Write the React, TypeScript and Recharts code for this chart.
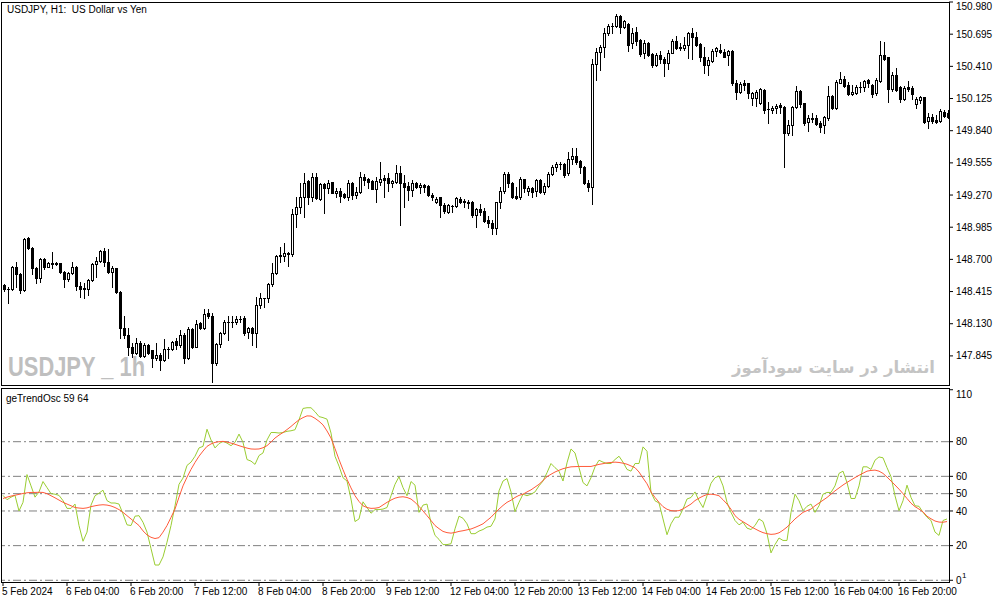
import React from 'react';
import { ComposedChart, Bar, Line, XAxis, YAxis, ReferenceLine } from 'recharts';

const FONT = "'Liberation Sans', Arial, sans-serif";

// 237 hourly bars, 5 Feb 2024 -> 16 Feb 2024
const opens = [
  148.474, 148.435, 148.441, 148.636, 148.571, 148.430, 148.888, 148.799, 148.621, 148.533,
  148.701, 148.636, 148.666, 148.672, 148.666, 148.592, 148.524, 148.577, 148.636, 148.468,
  148.444, 148.441, 148.518, 148.660, 148.687, 148.775, 148.680, 148.592, 148.621, 148.415,
  148.090, 148.031, 147.928, 147.869, 147.963, 147.845, 147.943, 147.893, 147.825, 147.854,
  147.810, 147.904, 147.910, 147.981, 147.943, 148.031, 147.825, 148.081, 147.928, 148.135,
  148.090, 148.223, 148.194, 147.786, 147.952, 148.046, 148.141, 148.141, 148.141, 148.170,
  148.179, 148.061, 148.090, 148.052, 148.297, 148.356, 148.356, 148.483, 148.577, 148.731,
  148.731, 148.754, 148.749, 149.103, 149.162, 149.250, 149.398, 149.256, 149.428, 149.236,
  149.368, 149.330, 149.383, 149.286, 149.306, 149.277, 149.256, 149.380, 149.271, 149.295,
  149.428, 149.410, 149.395, 149.324, 149.389, 149.419, 149.419, 149.374, 149.389, 149.469,
  149.380, 149.351, 149.315, 149.380, 149.339, 149.360, 149.351, 149.271, 149.206, 149.250,
  149.183, 149.123, 149.174, 149.174, 149.236, 149.221, 149.212, 149.212, 149.094, 149.144,
  149.132, 149.050, 149.020, 148.976, 149.206, 149.309, 149.457, 149.374, 149.262, 149.250,
  149.410, 149.309, 149.330, 149.309, 149.404, 149.300, 149.354, 149.457, 149.522, 149.546,
  149.546, 149.463, 149.587, 149.616, 149.575, 149.522, 149.380, 149.339, 150.431, 150.540,
  150.579, 150.709, 150.768, 150.768, 150.856, 150.762, 150.785, 150.620, 150.712, 150.644,
  150.526, 150.620, 150.517, 150.422, 150.511, 150.473, 150.437, 150.532, 150.635, 150.579,
  150.570, 150.600, 150.703, 150.667, 150.608, 150.490, 150.422, 150.461, 150.549, 150.555,
  150.540, 150.511, 150.549, 150.266, 150.186, 150.266, 150.260, 150.127, 150.127, 150.083,
  150.201, 150.030, 150.024, 150.039, 150.068, 150.053, 149.817, 149.891, 150.053, 150.195,
  150.083, 149.920, 149.950, 149.950, 149.906, 149.891, 149.950, 150.148, 150.039, 150.266,
  150.295, 150.245, 150.166, 150.177, 150.225, 150.225, 150.290, 150.245, 150.171, 150.284,
  150.511, 150.490, 150.207, 150.334, 150.225, 150.118, 150.225, 150.216, 150.077, 150.112,
  150.136, 149.929, 149.965, 149.935, 149.929, 150.009, 149.994,
];
const highs = [
  148.483, 148.459, 148.642, 148.680, 148.577, 148.888, 148.896, 148.808, 148.636, 148.710,
  148.710, 148.680, 148.769, 148.678, 148.672, 148.598, 148.592, 148.680, 148.642, 148.504,
  148.489, 148.524, 148.666, 148.725, 148.784, 148.799, 148.790, 148.642, 148.627, 148.421,
  148.194, 148.090, 147.957, 148.002, 147.981, 147.957, 147.952, 147.898, 147.957, 147.869,
  147.993, 147.928, 147.981, 148.002, 148.076, 148.046, 148.099, 148.090, 148.164, 148.149,
  148.259, 148.259, 148.223, 147.957, 148.061, 148.164, 148.194, 148.194, 148.194, 148.194,
  148.194, 148.105, 148.105, 148.365, 148.400, 148.362, 148.489, 148.666, 148.740, 148.808,
  148.849, 148.769, 149.144, 149.250, 149.380, 149.469, 149.404, 149.469, 149.463, 149.374,
  149.380, 149.404, 149.389, 149.330, 149.330, 149.292, 149.404, 149.389, 149.339, 149.478,
  149.457, 149.419, 149.404, 149.428, 149.566, 149.448, 149.463, 149.404, 149.537, 149.528,
  149.448, 149.389, 149.404, 149.389, 149.374, 149.369, 149.360, 149.286, 149.250, 149.256,
  149.203, 149.191, 149.183, 149.256, 149.250, 149.233, 149.227, 149.218, 149.153, 149.191,
  149.153, 149.085, 149.050, 149.212, 149.345, 149.472, 149.472, 149.383, 149.339, 149.428,
  149.416, 149.351, 149.345, 149.410, 149.413, 149.374, 149.472, 149.537, 149.566, 149.566,
  149.557, 149.655, 149.684, 149.684, 149.581, 149.528, 149.404, 150.473, 150.576, 150.600,
  150.747, 150.785, 150.791, 150.874, 150.865, 150.821, 150.791, 150.747, 150.762, 150.650,
  150.644, 150.629, 150.532, 150.532, 150.546, 150.496, 150.555, 150.650, 150.679, 150.614,
  150.667, 150.718, 150.747, 150.718, 150.614, 150.585, 150.496, 150.561, 150.579, 150.608,
  150.561, 150.555, 150.555, 150.290, 150.275, 150.290, 150.266, 150.186, 150.201, 150.216,
  150.207, 150.098, 150.059, 150.077, 150.089, 150.059, 149.935, 150.059, 150.236, 150.201,
  150.089, 149.979, 149.994, 149.979, 149.929, 149.971, 150.236, 150.157, 150.290, 150.363,
  150.325, 150.275, 150.245, 150.245, 150.275, 150.290, 150.295, 150.254, 150.304, 150.638,
  150.629, 150.496, 150.363, 150.393, 150.236, 150.236, 150.284, 150.236, 150.142, 150.148,
  150.142, 149.994, 149.988, 149.979, 150.030, 150.024, 150.024,
];
const lows = [
  148.424, 148.312, 148.430, 148.459, 148.400, 148.424, 148.790, 148.571, 148.495, 148.504,
  148.613, 148.630, 148.621, 148.651, 148.577, 148.459, 148.512, 148.571, 148.430, 148.371,
  148.356, 148.386, 148.512, 148.542, 148.680, 148.645, 148.583, 148.459, 148.400, 148.002,
  148.002, 147.854, 147.839, 147.863, 147.839, 147.839, 147.863, 147.751, 147.810, 147.721,
  147.804, 147.825, 147.898, 147.904, 147.928, 147.780, 147.816, 147.913, 147.922, 148.081,
  148.084, 148.179, 147.618, 147.766, 147.928, 148.040, 147.987, 148.105, 148.129, 148.149,
  148.031, 148.002, 147.943, 147.928, 148.267, 148.282, 148.326, 148.465, 148.571, 148.680,
  148.690, 148.642, 148.731, 148.991, 149.109, 149.079, 149.191, 149.221, 149.233, 149.227,
  149.115, 149.286, 149.286, 149.250, 149.212, 149.241, 149.227, 149.233, 149.241, 149.292,
  149.360, 149.330, 149.321, 149.212, 149.360, 149.256, 149.309, 149.345, 149.380, 149.005,
  149.168, 149.227, 149.262, 149.330, 149.292, 149.300, 149.262, 149.227, 149.197, 149.073,
  149.109, 149.109, 149.123, 149.168, 149.197, 149.168, 149.153, 149.079, 148.985, 149.094,
  149.035, 148.991, 148.926, 148.926, 149.153, 149.286, 149.339, 149.244, 149.233, 149.233,
  149.300, 149.271, 149.256, 149.262, 149.286, 149.280, 149.345, 149.448, 149.487, 149.498,
  149.433, 149.448, 149.546, 149.546, 149.469, 149.368, 149.309, 149.188, 150.290, 150.378,
  150.490, 150.688, 150.703, 150.762, 150.709, 150.747, 150.549, 150.570, 150.600, 150.502,
  150.481, 150.502, 150.402, 150.416, 150.437, 150.325, 150.384, 150.526, 150.561, 150.555,
  150.555, 150.481, 150.473, 150.591, 150.461, 150.354, 150.334, 150.452, 150.502, 150.532,
  150.490, 150.422, 150.245, 150.118, 150.177, 150.201, 150.127, 150.068, 150.059, 150.077,
  150.000, 149.912, 149.994, 149.994, 149.994, 149.522, 149.802, 149.802, 150.039, 150.053,
  149.891, 149.841, 149.920, 149.891, 149.832, 149.817, 149.935, 150.030, 150.030, 150.260,
  150.225, 150.157, 150.157, 150.166, 150.186, 150.195, 150.225, 150.136, 150.157, 150.275,
  150.467, 150.098, 150.195, 150.195, 150.098, 150.112, 150.195, 150.118, 150.039, 150.089,
  149.912, 149.861, 149.912, 149.906, 149.920, 149.965, 149.950,
];
const closes = [
  148.435, 148.441, 148.636, 148.571, 148.430, 148.879, 148.799, 148.621, 148.533, 148.701,
  148.636, 148.666, 148.663, 148.660, 148.592, 148.524, 148.577, 148.636, 148.468, 148.435,
  148.435, 148.518, 148.660, 148.687, 148.775, 148.680, 148.592, 148.621, 148.415, 148.090,
  148.031, 147.928, 147.869, 147.963, 147.845, 147.943, 147.875, 147.825, 147.854, 147.810,
  147.904, 147.910, 147.972, 147.943, 148.031, 147.825, 148.081, 147.928, 148.129, 148.090,
  148.217, 148.194, 147.786, 147.952, 148.046, 148.141, 148.141, 148.144, 148.170, 148.173,
  148.052, 148.090, 148.052, 148.297, 148.356, 148.359, 148.483, 148.577, 148.731, 148.737,
  148.754, 148.751, 149.103, 149.162, 149.250, 149.380, 149.256, 149.428, 149.241, 149.368,
  149.330, 149.380, 149.292, 149.306, 149.262, 149.256, 149.374, 149.271, 149.300, 149.428,
  149.404, 149.389, 149.324, 149.395, 149.413, 149.404, 149.374, 149.395, 149.469, 149.380,
  149.345, 149.315, 149.380, 149.339, 149.360, 149.345, 149.271, 149.250, 149.233, 149.183,
  149.132, 149.183, 149.177, 149.241, 149.212, 149.209, 149.197, 149.094, 149.144, 149.123,
  149.044, 149.020, 148.976, 149.206, 149.309, 149.457, 149.374, 149.250, 149.241, 149.410,
  149.330, 149.330, 149.300, 149.404, 149.300, 149.354, 149.457, 149.522, 149.546, 149.543,
  149.448, 149.587, 149.616, 149.566, 149.516, 149.374, 149.339, 150.431, 150.540, 150.579,
  150.709, 150.768, 150.771, 150.856, 150.762, 150.812, 150.600, 150.709, 150.638, 150.520,
  150.620, 150.511, 150.422, 150.511, 150.473, 150.443, 150.532, 150.635, 150.570, 150.576,
  150.600, 150.703, 150.667, 150.600, 150.490, 150.422, 150.467, 150.549, 150.570, 150.540,
  150.496, 150.549, 150.266, 150.186, 150.254, 150.245, 150.171, 150.171, 150.186, 150.207,
  150.024, 150.033, 150.039, 150.059, 150.048, 149.817, 149.891, 150.053, 150.195, 150.077,
  149.906, 149.950, 149.947, 149.900, 149.876, 149.959, 150.148, 150.039, 150.275, 150.295,
  150.236, 150.166, 150.186, 150.225, 150.227, 150.284, 150.260, 150.166, 150.290, 150.511,
  150.473, 150.207, 150.334, 150.201, 150.118, 150.216, 150.207, 150.166, 150.118, 150.136,
  149.920, 149.965, 149.929, 149.920, 150.018, 149.971, 149.965,
];

// geTrendOsc 59 64 : fast (green) and smoothed (red) lines
const oscFast = [
  49, 46.5, 48, 49, 40, 45, 61, 54.5, 48, 51,
  57, 53.5, 50, 49.7, 49, 46, 41.5, 41.5, 44, 31.6,
  22.5, 27.8, 43.4, 48.8, 50.3, 52, 46, 44.6, 44.6, 44,
  38.3, 32, 31.6, 37, 37.3, 33.5, 27.8, 18.3, 8.8, 8.8,
  13.5, 22, 31.6, 43, 55.4, 59, 66.3, 68.2, 71.6, 76.4,
  77.3, 87.2, 81, 76.4, 78.9, 80.2, 79.2, 77.7, 79.6, 84.4,
  79.6, 69.7, 68.8, 66.9, 72, 73.5, 81, 85.3, 85.3, 85,
  85.3, 86, 86.3, 86.9, 92.6, 99.2, 99.6, 99.6, 97.3, 94.5,
  93.9, 93, 85, 71.6, 65.9, 59.2, 57.3, 46.9, 33.9, 35.4,
  45.3, 42, 38.7, 40.8, 40.8, 41.1, 42, 48.8, 55.4, 59.8,
  53.5, 48.8, 57, 54.9, 39.2, 43.4, 44, 33.1, 25.9, 23.6,
  20.6, 20.6, 21.1, 29.7, 37, 35.8, 32.6, 26.9, 26.9, 28.4,
  29.3, 30.7, 31.2, 35.4, 51.6, 57.3, 58.7, 51, 39.6, 45,
  49.7, 48.8, 49.7, 51, 54.5, 57.3, 62.1, 67.4, 65, 63,
  57.3, 67.8, 75.8, 73.5, 65, 56.4, 54.5, 59.2, 65.5, 69.3,
  68.2, 67.4, 67.4, 69.7, 71.6, 68.2, 64, 63, 67.4, 67.4,
  77, 74.5, 50.7, 45.9, 44.6, 35.4, 26.3, 32.6, 36.4, 36.4,
  41.1, 46.9, 47.8, 51, 45.9, 42, 48.8, 56, 59.2, 60.2,
  54.5, 45, 39.2, 34.5, 32, 33.5, 30.1, 29.3, 31.6, 35.4,
  33.9, 26.9, 15.8, 20.6, 24.4, 23, 23, 39.2, 49.7, 45.9,
  40.2, 42.7, 44, 39.2, 43, 49.7, 50.7, 50.7, 54.5, 61.7,
  63, 56.4, 47.2, 47.2, 54.5, 65.5, 65.5, 64, 69.3, 71.2,
  70.7, 65, 59.8, 48.8, 40.2, 45.9, 54.9, 47.8, 43, 42.7,
  39.2, 36.4, 34.5, 27.8, 25.9, 34.5, 35.4,
];
const oscSlow = [
  47.2, 48.0, 48.6, 49.1, 49.6, 50.1, 50.5, 50.7, 50.7, 50.8,
  50.7, 50.0, 48.8, 47.6, 46.3, 45.0, 44.0, 43.0, 42.0, 41.7,
  41.5, 41.8, 42.5, 43.0, 43.4, 43.6, 43.4, 42.9, 42.0, 40.8,
  39.2, 37.3, 35.4, 33.5, 31.6, 28.5, 26.2, 24.8, 24.1, 24.6,
  27.8, 31.6, 36.3, 41.1, 48.0, 54.5, 59.5, 64.0, 68.0, 71.6,
  74.6, 77.3, 78.7, 79.6, 80.0, 80.2, 79.8, 79.2, 78.5, 77.7,
  77.0, 76.3, 75.8, 75.7, 75.8, 76.5, 77.7, 79.8, 82.1, 83.8,
  85.3, 87.0, 88.8, 90.8, 92.6, 93.9, 94.9, 94.8, 93.5, 91.8,
  89.7, 86.2, 82.1, 76.0, 69.7, 63.8, 58.3, 53.3, 48.8, 45.5,
  43.0, 42.0, 41.5, 41.6, 42.0, 43.5, 45.0, 46.3, 47.4, 48.0,
  48.2, 47.8, 46.9, 45.0, 42.7, 40.0, 37.3, 34.5, 31.6, 29.8,
  28.2, 27.5, 27.2, 27.6, 28.2, 28.6, 29.1, 29.6, 30.5, 31.5,
  32.6, 34.5, 36.4, 38.8, 41.1, 43.2, 45.0, 46.2, 47.8, 49.0,
  49.7, 51.0, 52.2, 53.8, 55.4, 57.6, 59.8, 61.2, 62.5, 63.5,
  64.4, 65.0, 65.5, 65.6, 65.7, 65.7, 65.7, 65.7, 66.3, 66.9,
  67.3, 67.8, 68.0, 68.2, 68.0, 67.6, 67.0, 66.0, 65.0, 62.5,
  59.0, 55.7, 51.0, 47.8, 45.0, 42.5, 41.0, 40.2, 40.0, 40.2,
  41.2, 42.6, 44.0, 46.0, 47.4, 48.6, 49.5, 49.7, 49.4, 48.8,
  46.5, 44.0, 41.0, 37.3, 35.2, 33.8, 32.4, 30.9, 29.7, 28.5,
  27.5, 26.9, 26.5, 26.7, 27.4, 28.9, 30.7, 33.0, 35.4, 37.3,
  39.2, 40.2, 41.1, 43.0, 44.6, 46.2, 47.8, 49.7, 51.6, 53.3,
  55.0, 56.5, 57.9, 59.3, 60.6, 61.8, 63.0, 63.4, 63.6, 63.0,
  61.7, 59.6, 57.3, 55.0, 52.6, 50.0, 47.2, 44.5, 42.5, 41.1,
  39.5, 37.0, 35.5, 34.2, 33.6, 33.5, 33.9,
];

const timeTickBars = [0, 16, 32, 48, 64, 80, 96, 112, 128, 144, 160, 176, 192, 208, 224];
const timeTickLabels = [
  '5 Feb 2024', '6 Feb 04:00', '6 Feb 20:00', '7 Feb 12:00', '8 Feb 04:00', '8 Feb 20:00',
  '9 Feb 12:00', '12 Feb 04:00', '12 Feb 20:00', '13 Feb 12:00', '14 Feb 04:00',
  '14 Feb 20:00', '15 Feb 12:00', '16 Feb 04:00', '16 Feb 20:00',
];
const priceTicks = [150.98, 150.695, 150.41, 150.125, 149.84, 149.555, 149.27, 148.985, 148.7, 148.415, 148.13, 147.845];
const oscTicks = [0, 20, 40, 50, 60, 80, 110];
const oscLevels = [80, 60, 50, 40, 20, 0];

const data = closes.map((c, i) => ({
  i,
  open: opens[i],
  high: highs[i],
  low: lows[i],
  close: c,
  range: [lows[i], highs[i]],
  fast: oscFast[i],
  slow: oscSlow[i],
}));

function Candle(props: any) {
  const { x, y, width, height, payload } = props;
  if (!payload || x == null) return null;
  const { open, high, low, close } = payload;
  const span = high - low;
  const toY = (p: number) => y + (span > 0 ? ((high - p) / span) * height : 0);
  const cx = Math.round(x + width / 2);
  const wx = cx + 0.5;
  const top = Math.round(Math.min(toY(open), toY(close))) + 0.5;
  const bot = Math.round(Math.max(toY(open), toY(close))) + 0.5;
  const bull = close >= open;
  return (
    <g>
      <line x1={wx} x2={wx} y1={Math.round(y)} y2={Math.round(y + height) + 1} stroke="#000" strokeWidth={1} />
      {bot - top < 1 ? (
        <line x1={cx - 1} x2={cx + 2} y1={top} y2={top} stroke="#000" strokeWidth={1} />
      ) : (
        <rect x={cx - 0.5} y={top} width={2} height={bot - top} fill={bull ? '#fff' : '#000'} stroke="#000" strokeWidth={1} />
      )}
    </g>
  );
}

function PriceTick({ x, y, payload }: any) {
  const v = payload.value;
  // the top label sits against the window edge, nudge it down so it stays whole
  const ty = v === priceTicks[0] ? y + 4 : y;
  return (
    <text x={x} y={ty} dy="0.355em" fontSize={10} fontFamily={FONT} fill="#000">{v.toFixed(3)}</text>
  );
}

function TimeTick({ x, y, payload }: any) {
  const k = timeTickBars.indexOf(payload.value);
  return (
    <text x={x - 1} y={y} dy="0.71em" textAnchor="start" fontSize={10} fontFamily={FONT} fill="#000">
      {k >= 0 ? timeTickLabels[k] : ''}
    </text>
  );
}

function OscTick({ x, y, payload }: any) {
  const v = payload.value;
  return (
    <g>
      <text x={x} y={v === 110 ? y + 5 : y} dy="0.355em" fontSize={10} fontFamily={FONT} fill="#000">{v}</text>
      {v === 0 && <text x={x + 6} y={y - 2} fontSize={8} fontFamily={FONT} fill="#000">1</text>}
    </g>
  );
}

export default function App() {
  return (
    <div style={{ position: 'absolute', left: 0, top: 0, width: 1003, height: 603, background: '#fff', overflow: 'hidden' }}>
      <div style={{ position: 'absolute', left: 0, top: 0 }}>
        <ComposedChart width={1003} height={390} data={data} margin={{ top: 2, right: 0, bottom: 6, left: 1 }}>
          <XAxis dataKey="i" type="category" scale="band" hide />
          <YAxis
            orientation="right" width={54} domain={[147.596, 150.98]} allowDataOverflow
            ticks={priceTicks} interval={0}
            axisLine={false} tickLine={{ stroke: '#000' }} tickSize={4} tickMargin={3}
            tick={<PriceTick />}
          />
          <Bar dataKey="range" barSize={3} isAnimationActive={false} shape={(p: any) => <Candle {...p} />} />
        </ComposedChart>
      </div>
      <div style={{ position: 'absolute', left: 0, top: 388 }}>
        <ComposedChart width={1003} height={215} data={data} margin={{ top: 0, right: 0, bottom: 0, left: 1 }}>
          <XAxis
            dataKey="i" type="category" scale="band" height={21} ticks={timeTickBars} interval={0}
            axisLine={false} tickLine={{ stroke: '#000' }} tickSize={4} tickMargin={2} tick={<TimeTick />}
          />
          <YAxis
            orientation="right" width={54} domain={[-1, 111]} allowDataOverflow ticks={oscTicks} interval={0}
            axisLine={false} tickLine={{ stroke: '#000' }} tickSize={4} tickMargin={3} tick={<OscTick />}
          />
          {oscLevels.map((lv) => (
            <ReferenceLine key={lv} y={lv} stroke="#808080" strokeWidth={1} strokeDasharray="8 3 2 3" />
          ))}
          <Line dataKey="fast" type="linear" stroke="#9acd32" strokeWidth={1} dot={false} isAnimationActive={false} />
          <Line dataKey="slow" type="linear" stroke="#ff5a3a" strokeWidth={1} dot={false} isAnimationActive={false} />
        </ComposedChart>
      </div>
      <svg width={1003} height={603} style={{ position: 'absolute', left: 0, top: 0, pointerEvents: 'none' }}>
        <rect x={1.5} y={2.5} width={948} height={383} fill="none" stroke="#000" />
        <rect x={1.5} y={388.5} width={948} height={194} fill="none" stroke="#000" />
        <text x={7} y={13} fontSize={10} fontFamily={FONT} fill="#000" style={{ whiteSpace: 'pre' }}>USDJPY, H1:  US Dollar vs Yen</text>
        <text x={6} y={402} fontSize={10} fontFamily={FONT} fill="#000">geTrendOsc 59 64</text>
        <text x={8} y={376} fontSize={28} fontWeight="bold" fontFamily="'Liberation Sans Narrow', 'Liberation Sans', sans-serif"
          fill="#bfbfbf" textLength={137} lengthAdjust="spacingAndGlyphs">USDJPY _ 1h</text>
        <text x={935} y={373} fontSize={16.5} fontWeight="bold" fontFamily="'DejaVu Sans', sans-serif" textAnchor="end"
          fill="#c4c4c4">انتشار در سایت سودآموز</text>
      </svg>
    </div>
  );
}
